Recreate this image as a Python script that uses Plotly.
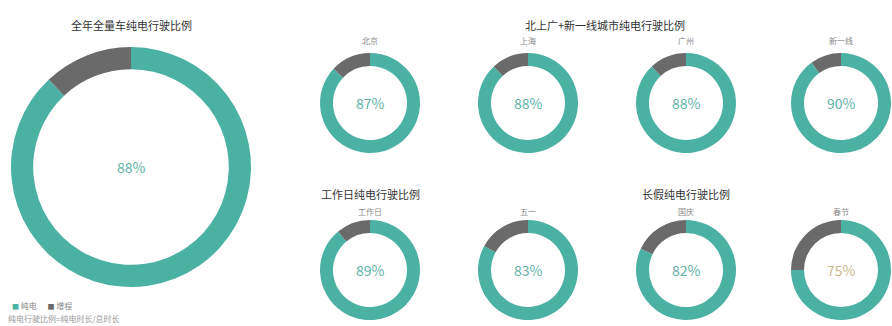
import plotly.graph_objects as go

W, H = 892, 326

# Share of driving time in pure-electric mode (%), the rest is range-extender
overall_label = "全年全量车纯电行驶比例"
overall_value = 88

city_title = "北上广+新一线城市纯电行驶比例"
city_names = ["北京", "上海", "广州", "新一线"]
city_values = [87, 88, 88, 90]

workday_title = "工作日纯电行驶比例"
holiday_title = "长假纯电行驶比例"
period_names = ["工作日", "五一", "国庆", "春节"]
period_values = [89, 83, 82, 75]

legend_labels = ["纯电", "增程"]
note_text = "纯电行驶比例=纯电时长/总时长"

TEAL = "#4ab1a3"
GREY = "#6b6a6b"
PCT_TEAL = "#62b2a7"
PCT_GOLD = "#cbb98f"
FONT = "Noto Sans CJK SC"

fig = go.Figure()


def add_text(x, y, text, size, color, xanchor="center"):
    """Text placed at pixel (x, y) measured from the top-left corner."""
    fig.add_annotation(x=x / W, y=1 - y / H, xref="paper", yref="paper",
                       xanchor=xanchor, yanchor="middle",
                       text=text, showarrow=False,
                       font=dict(family=FONT, size=size, color=color))


def add_donut(cx, cy, r, value, hole, pct_color, name):
    """Donut centred at pixel (cx, cy) with outer radius r."""
    x0, x1 = max(cx - r, 0) / W, min(cx + r, W) / W
    y0, y1 = max(H - cy - r, 0) / H, min(H - cy + r, H) / H
    fig.add_trace(go.Pie(
        labels=legend_labels,
        values=[value, 100 - value],
        hole=hole,
        sort=False,
        direction="clockwise",
        rotation=0,
        marker=dict(colors=[TEAL, GREY], line=dict(width=0)),
        textinfo="none",
        hoverinfo="label+percent",
        showlegend=False,
        name=name,
        domain=dict(x=[x0, x1], y=[y0, y1]),
    ))
    add_text(cx, cy, f"{value}%", 14, pct_color)


# Whole-year donut
add_donut(131, 167, 120, overall_value, 0.815, PCT_TEAL, overall_label)
add_text(131, 25, overall_label, 11, "#333333")

# City donuts (top row) and period donuts (bottom row)
col_x = [370, 528, 686, 841]
for cx, name, v in zip(col_x, city_names, city_values):
    add_donut(cx, 103, 50, v, 0.74, PCT_TEAL, name)
    add_text(cx, 41, name, 8, "#888888")
for cx, name, v in zip(col_x, period_names, period_values):
    add_donut(cx, 270, 50, v, 0.74, PCT_GOLD if name == "春节" else PCT_TEAL, name)
    add_text(cx, 211, name, 8, "#888888")

add_text(605, 25, city_title, 11, "#333333")
add_text(370, 194, workday_title, 11, "#333333")
add_text(686, 194, holiday_title, 11, "#333333")

# Legend and footnote
add_text(10, 305,
         f"<span style='color:{TEAL};font-size:7px'>■</span> {legend_labels[0]}"
         f"&nbsp;&nbsp;&nbsp;&nbsp;&nbsp;&nbsp;<span style='color:{GREY};font-size:7px'>■</span> {legend_labels[1]}",
         8, "#888888", xanchor="left")
add_text(6, 318, note_text, 8, "#999999", xanchor="left")

fig.update_layout(
    width=W, height=H,
    margin=dict(l=0, r=0, t=0, b=0),
    paper_bgcolor="white", plot_bgcolor="white",
    font=dict(family=FONT),
    showlegend=False,
)

fig.write_html("out.html")
